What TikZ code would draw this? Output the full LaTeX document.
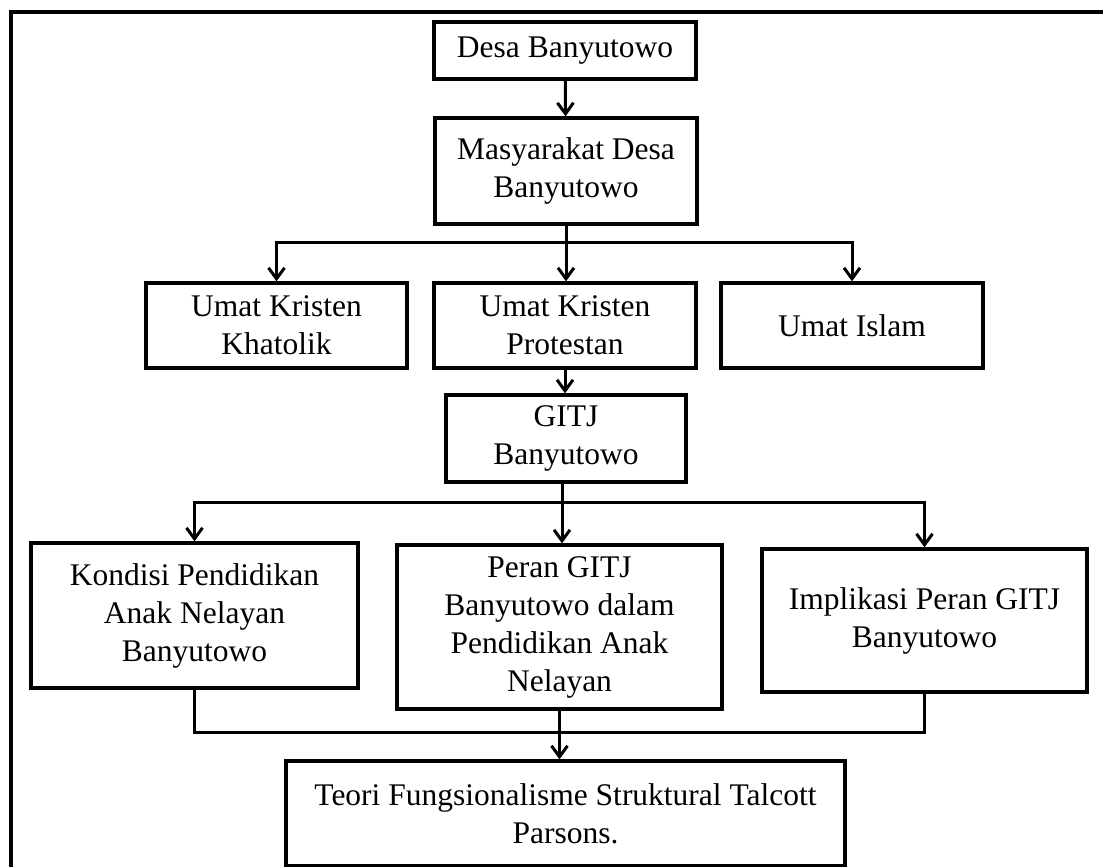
\documentclass[tikz,border=0pt]{standalone}
\usepackage{fontspec}
\setmainfont{Liberation Serif}
\usetikzlibrary{arrows.meta}
\tikzset{
	box/.style={draw, line width=3.3pt, align=center, inner sep=0pt,
		font=\fontsize{31.5}{38}\selectfont},
	arr/.style={line width=3pt, -{Straight Barb[length=11pt,width=16pt]}},
	link/.style={line width=3pt}
}

\begin{document}
\begin{tikzpicture}[x=1pt, y=-1pt]
			%%%%% START %%%%%
			\useasboundingbox (0, 0) rectangle (1103, 867);
			\draw[line width=3.6pt] (11, 867) -- (11, 12) -- (1103, 12);
			
			\node[box, minimum width=262, minimum height=57] (desa) at (565, 50.5) {Desa Banyutowo};
			\node[box, minimum width=262, minimum height=106] (masy) at (566, 171) {Masyarakat Desa\\Banyutowo};
			
			\node[box, minimum width=261, minimum height=85] (khat) at (276.5, 325.5) {Umat Kristen\\Khatolik};
			\node[box, minimum width=262, minimum height=85] (prot) at (565, 325.5) {Umat Kristen\\Protestan};
			\node[box, minimum width=262, minimum height=85] (islam) at (852, 325.5) {Umat Islam};
			
			\node[box, minimum width=240, minimum height=87] (gitj) at (566, 438.5) {GITJ\\Banyutowo};
			
			\node[box, minimum width=327, minimum height=145] (kond) at (194.5, 615.5) {Kondisi Pendidikan\\Anak Nelayan\\Banyutowo};
			\node[box, minimum width=325, minimum height=164] (peran) at (559.5, 627) {Peran GITJ\\Banyutowo dalam\\Pendidikan Anak\\Nelayan};
			\node[box, minimum width=325, minimum height=143] (impl) at (924.5, 620.5) {Implikasi Peran GITJ\\Banyutowo};
			
			\node[box, minimum width=559, minimum height=105] (teori) at (565.5, 813.5) {Teori Fungsionalisme Struktural Talcott\\Parsons.};
			
			\coordinate (b1) at (566, 242);
			\coordinate (b2) at (562, 502);
			\coordinate (m) at (560, 732);
			
			\draw[arr] (desa) -- (masy);
			\draw[link] (masy.south) -- (b1);
			\draw[arr] (b1) -| (khat.north);
			\draw[arr] (b1) -- (b1 |- prot.north);
			\draw[arr] (b1) -| (islam.north);
			
			\draw[arr] (prot.south) -- (prot.south |- gitj.north);
			\draw[link] (gitj.south -| b2) -- (b2);
			\draw[arr] (b2) -| (kond.north);
			\draw[arr] (b2) -- (b2 |- peran.north);
			\draw[arr] (b2) -| (impl.north);
			
			\draw[link] (kond.south) |- (m) -| (impl.south);
			\draw[arr] (peran.south) -- (peran.south |- teori.north);
			%%%%% END %%%%%
		\end{tikzpicture}
\end{document}
